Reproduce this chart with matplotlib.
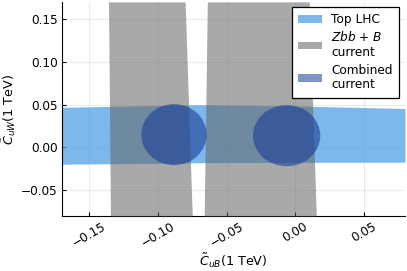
import matplotlib
matplotlib.use("Agg")
import matplotlib.pyplot as plt
from matplotlib.patches import Ellipse, Patch

# Top LHC band: upper / lower edge sampled along C_uB
top_x = [-0.17, -0.10, -0.07, 0.0, 0.08]
top_upper = [0.0469, 0.0490, 0.0500, 0.0485, 0.0455]
top_lower = [-0.0195, -0.0185, -0.0178, -0.0173, -0.0172]

# Zbb + B current: two near-vertical strips (edges at y = bottom, top)
strip_y = [-0.08, 0.17]
strip1_left = [-0.1346, -0.1360]
strip1_right = [-0.0750, -0.0802]
strip2_left = [-0.0663, -0.0640]
strip2_right = [0.0154, 0.0102]

# Combined current: two ellipses (center x, center y, width, height)
comb_cx = [-0.0883, -0.0062]
comb_cy = [0.0150, 0.0138]
comb_w = [0.0476, 0.0490]
comb_h = [0.0712, 0.0713]

xticks = [-0.15, -0.10, -0.05, 0.00, 0.05]
yticks = [-0.05, 0.00, 0.05, 0.10, 0.15]

BLUE = (0.36, 0.65, 0.91)
GREY = (0.39, 0.39, 0.39)
DARK = (0.10, 0.24, 0.59)

plt.rcParams["font.family"] = "DejaVu Sans"
fig = plt.figure(figsize=(4.07, 2.71), dpi=100)
ax = fig.add_axes([0.152, 0.203, 0.843, 0.790])

ax.fill_between(top_x, top_lower, top_upper, color=BLUE, alpha=0.8, lw=0, zorder=2)
ax.fill_betweenx(strip_y, strip1_left, strip1_right, color=GREY, alpha=0.55, lw=0, zorder=3)
ax.fill_betweenx(strip_y, strip2_left, strip2_right, color=GREY, alpha=0.55, lw=0, zorder=3)
for cx, cy, w, h in zip(comb_cx, comb_cy, comb_w, comb_h):
    ax.add_patch(Ellipse((cx, cy), w, h, facecolor=DARK, alpha=0.6, lw=0, zorder=4))

ax.set_xlim(-0.17, 0.08)
ax.set_ylim(-0.08, 0.17)
ax.set_xticks(xticks, [f"{t:.2f}".replace("-", "\u2212") for t in xticks], rotation=30)
ax.set_yticks(yticks, [f"{t:.2f}".replace("-", "\u2212") for t in yticks])
ax.tick_params(direction="in", length=3, width=0.8, labelsize=8.7, pad=3)
ax.grid(color="black", alpha=0.08, linewidth=0.8, zorder=0)
ax.set_axisbelow(True)
ax.spines[["top", "right"]].set_visible(False)
ax.set_xlabel(r"$\tilde{C}_{uB}$(1 TeV)", fontsize=9.2, labelpad=1)
ax.set_ylabel(r"$\tilde{C}_{uW}$(1 TeV)", fontsize=9.2, labelpad=2)

handles = [
    Patch(facecolor=BLUE, alpha=0.8, lw=0),
    Patch(facecolor=GREY, alpha=0.55, lw=0),
    Patch(facecolor=DARK, alpha=0.55, lw=0),
]
labels = ["Top LHC", "$Zbb$ + $B$\ncurrent", "Combined\ncurrent"]
leg = fig.legend(
    handles,
    labels,
    loc="upper right",
    bbox_to_anchor=(399 / 407, 1 - 7 / 271),
    borderaxespad=0,
    fontsize=8.7,
    fancybox=False,
    framealpha=1,
    edgecolor="black",
    handlelength=2.0,
    handleheight=0.6,
    labelspacing=0.35,
    borderpad=0.5,
)
leg.get_frame().set_linewidth(0.9)

fig.savefig("out.png", dpi=100)
